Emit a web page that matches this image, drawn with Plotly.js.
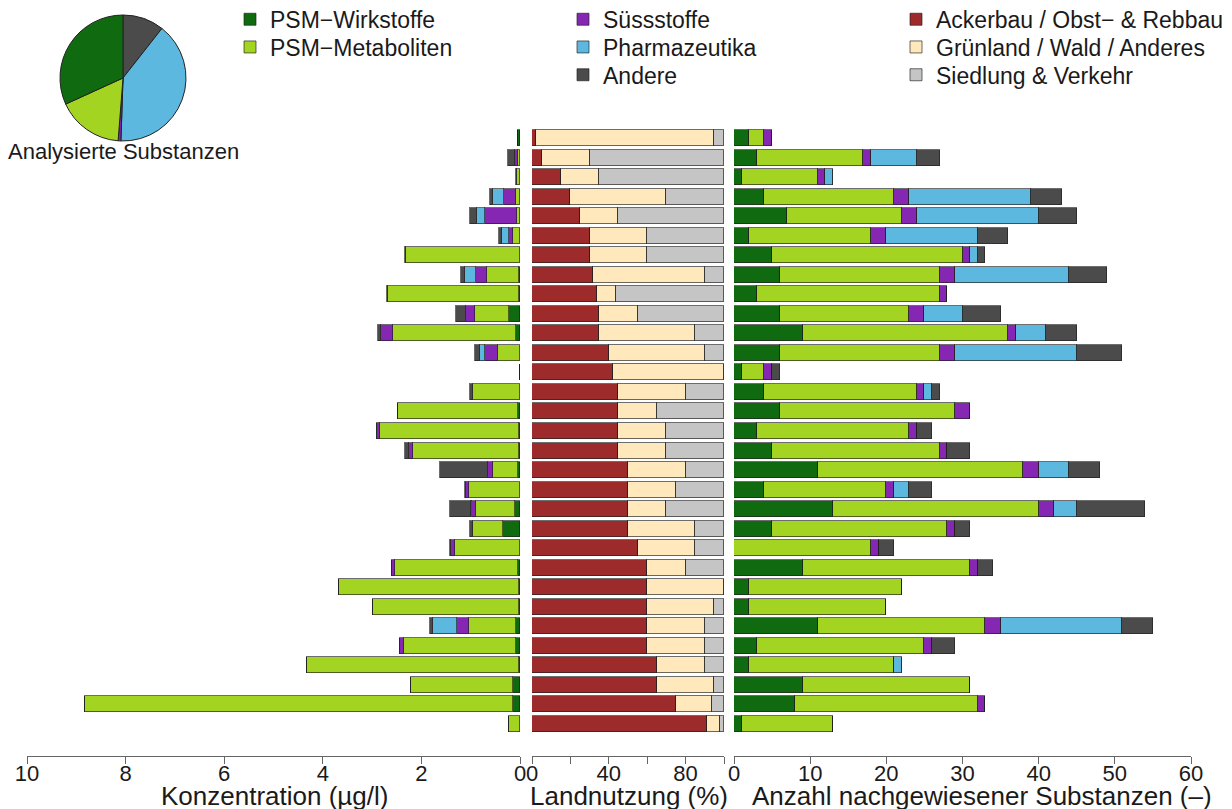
<!DOCTYPE html>
<html>
<head>
<meta charset="utf-8">
<script src="https://cdn.plot.ly/plotly-3.0.1.min.js"></script>
<style>html,body{margin:0;padding:0;background:#fff;}#chart{width:1232px;height:809px;}</style>
</head>
<body>
<div id="chart"></div>
<script>
// ---------- data (rows top to bottom) ----------
// Konzentration (µg/l)
const concWirkstoffe = [0.05,0,0,0,0,0,0,0.03,0.03,0.22,0.08,0,0,0,0.05,0.03,0.03,0.05,0,0.11,0.35,0,0.05,0.02,0.02,0.08,0.09,0.03,0.15,0.15,0];
const concMetaboliten = [0,0.05,0.07,0.08,0.07,0.15,2.31,0.64,2.64,0.70,2.49,0.45,0.01,0.96,2.43,2.82,2.15,0.49,1.04,0.79,0.61,1.31,2.49,3.65,2.96,0.95,2.27,4.29,2.06,8.67,0.22];
const concSuessstoffe = [0,0.06,0,0.24,0.63,0.07,0,0.22,0,0.18,0.25,0.25,0,0,0,0.05,0.08,0.10,0.05,0.07,0,0.09,0.06,0,0,0.24,0.07,0,0,0,0];
const concPharma = [0,0,0,0.22,0.17,0.14,0,0.22,0,0,0,0.12,0,0,0,0,0,0,0,0.03,0,0,0,0,0,0.49,0,0,0,0,0];
const concAndere = [0,0.13,0.02,0.07,0.14,0.06,0.02,0.09,0.03,0.19,0.06,0.10,0,0.06,0,0,0.07,0.99,0.03,0.41,0.05,0.03,0,0,0,0.07,0,0,0,0,0];

// Landnutzung (%)
const landAckerbau = [2,5,15,20,25,30,30,32,34,35,35,40,42,45,45,45,45,50,50,50,50,55,60,60,60,60,60,65,65,75,91];
const landGruenland = [93,25,20,50,20,30,30,58,10,20,50,50,58,35,20,25,25,30,25,20,35,30,20,40,35,30,30,25,30,19,7];
const landSiedlung = [5,70,65,30,55,40,40,10,56,45,15,10,0,20,35,30,30,20,25,30,15,15,20,0,5,10,10,10,5,6,2];

// Anzahl nachgewiesener Substanzen (-)
const nWirkstoffe = [2,3,1,4,7,2,5,6,3,6,9,6,1,4,6,3,5,11,4,13,5,0,9,2,2,11,3,2,9,8,1];
const nMetaboliten = [2,14,10,17,15,16,25,21,24,17,27,21,3,20,23,20,22,27,16,27,23,18,22,20,18,22,22,19,22,24,12];
const nSuessstoffe = [1,1,1,2,2,2,1,2,1,2,1,2,1,1,2,1,1,2,1,2,1,1,1,0,0,2,1,0,0,1,0];
const nPharma = [0,6,1,16,16,12,1,15,0,5,4,16,0,1,0,0,0,4,2,3,0,0,0,0,0,16,0,1,0,0,0];
const nAndere = [0,3,0,4,5,4,1,5,0,5,4,6,1,1,0,2,3,4,3,9,2,2,2,0,0,4,3,0,0,0,0];

// Analysierte Substanzen (pie)
const pieLabels = ["Andere","Pharmazeutika","Süssstoffe","PSM−Metaboliten","PSM−Wirkstoffe"];
const pieValues = [30,113,2,48,90];

// axis ticks and titles
const concTicks = [0,2,4,6,8,10];
const landTicks = [0,20,40,60,80,100];
const landTickText = ["0","","40","","80",""];
const countTicks = [0,10,20,30,40,50,60];
const titleConc = "Konzentration (µg/l)";
const titleLand = "Landnutzung (%)";
const titleCount = "Anzahl nachgewiesener Substanzen (–)";

// ---------- styling ----------
const W = 1232, H = 809;
const FONT = "Liberation Sans, Arial, Helvetica, sans-serif";
const TXT = "#1a1a1a";
const C = {
  wirk: "#106b10", metab: "#a4d422", suess: "#8527b3", pharma: "#5db8df", andere: "#4b4b4b",
  acker: "#9e2b2b", gruen: "#ffe8bc", sied: "#c5c5c5"
};
const rows = concWirkstoffe.map((_, i) => i + 1);
const OUTLINE = {color: "rgba(30,30,30,0.65)", width: 1};
const BW = 0.82;

function bar(name, vals, color, xa, ya, legendId) {
  return {
    type: "bar", orientation: "h", name: name, x: vals, y: rows,
    xaxis: xa, yaxis: ya, width: BW,
    marker: {color: color, line: OUTLINE},
    showlegend: !!legendId, legend: legendId || "legend",
    hovertemplate: name + ": %{x}<extra></extra>"
  };
}

const traces = [
  bar("PSM−Wirkstoffe", concWirkstoffe, C.wirk, "x", "y"),
  bar("PSM−Metaboliten", concMetaboliten, C.metab, "x", "y"),
  bar("Süssstoffe", concSuessstoffe, C.suess, "x", "y"),
  bar("Pharmazeutika", concPharma, C.pharma, "x", "y"),
  bar("Andere", concAndere, C.andere, "x", "y"),

  bar("Ackerbau / Obst− & Rebbau", landAckerbau, C.acker, "x2", "y2", "legend6"),
  bar("Grünland / Wald / Anderes", landGruenland, C.gruen, "x2", "y2", "legend7"),
  bar("Siedlung & Verkehr", landSiedlung, C.sied, "x2", "y2", "legend8"),

  bar("PSM−Wirkstoffe", nWirkstoffe, C.wirk, "x3", "y3", "legend"),
  bar("PSM−Metaboliten", nMetaboliten, C.metab, "x3", "y3", "legend2"),
  bar("Süssstoffe", nSuessstoffe, C.suess, "x3", "y3", "legend3"),
  bar("Pharmazeutika", nPharma, C.pharma, "x3", "y3", "legend4"),
  bar("Andere", nAndere, C.andere, "x3", "y3", "legend5"),

  {
    type: "pie", labels: pieLabels, values: pieValues, sort: false,
    direction: "clockwise", rotation: 0, textinfo: "none", showlegend: false,
    marker: {colors: [C.andere, C.pharma, C.suess, C.metab, C.wirk], line: {color: "#222", width: 1}},
    domain: {x: [60 / W, 186 / W], y: [1 - 141 / H, 1 - 15 / H]},
    hovertemplate: "%{label}: %{percent}<extra></extra>"
  }
];

const yDom = [1 - 756 / H, 1 - 128 / H];
const yRange = [32.64, 0.488];
function yax() {
  return {domain: yDom, range: yRange, visible: false, fixedrange: true};
}
function xax(dom, range, extra) {
  return Object.assign({
    domain: dom, range: range, showgrid: false, zeroline: false,
    showline: true, linecolor: "#666", linewidth: 1,
    ticks: "outside", ticklen: 7, tickcolor: "#666", tickwidth: 1,
    ticklabelstandoff: -9,
    tickfont: {size: 22, color: TXT, family: FONT},
    fixedrange: true
  }, extra);
}
function leg(xpx, ypx) {
  return {
    x: xpx / W, y: 1 - ypx / H, xanchor: "left", yanchor: "top",
    font: {size: 23, color: TXT, family: FONT},
    bgcolor: "rgba(0,0,0,0)", borderwidth: 0
  };
}
function axTitle(text, xpx) {
  return {text: text, x: xpx / W, y: 1 - 796 / H, xref: "paper", yref: "paper",
          xanchor: "center", yanchor: "middle", showarrow: false,
          font: {size: 26, color: TXT, family: FONT}};
}

const layout = {
  width: W, height: H,
  margin: {l: 0, r: 0, t: 0, b: 0, autoexpand: false},
  paper_bgcolor: "#fff", plot_bgcolor: "rgba(0,0,0,0)",
  font: {family: FONT, color: TXT},
  barmode: "stack", bargap: 0,
  xaxis: xax([27 / W, 520 / W], [10, 0], {anchor: "y", tickvals: concTicks}),
  yaxis: yax(),
  xaxis2: xax([532 / W, 724 / W], [0, 100], {anchor: "y2", tickvals: landTicks, ticktext: landTickText}),
  yaxis2: Object.assign(yax(), {anchor: "x2"}),
  xaxis3: xax([734 / W, 1191 / W], [0, 60], {anchor: "y3", tickvals: countTicks}),
  yaxis3: Object.assign(yax(), {anchor: "x3"}),
  legend: leg(230, -2.2),
  legend2: leg(230, 25.5),
  legend3: leg(563, -2.2),
  legend4: leg(563, 25.5),
  legend5: leg(563, 53.3),
  legend6: leg(896, -2.2),
  legend7: leg(896, 25.5),
  legend8: leg(896, 53.3),
  annotations: [
    {text: "Analysierte Substanzen", x: 123 / W, y: 1 - 152 / H, xref: "paper", yref: "paper",
     xanchor: "center", yanchor: "middle", showarrow: false, font: {size: 22, color: TXT, family: FONT}},
    axTitle(titleConc, 274),
    axTitle(titleLand, 629),
    axTitle(titleCount, 982)
  ]
};

Plotly.newPlot("chart", traces, layout, {displayModeBar: false});
</script>
</body>
</html>
